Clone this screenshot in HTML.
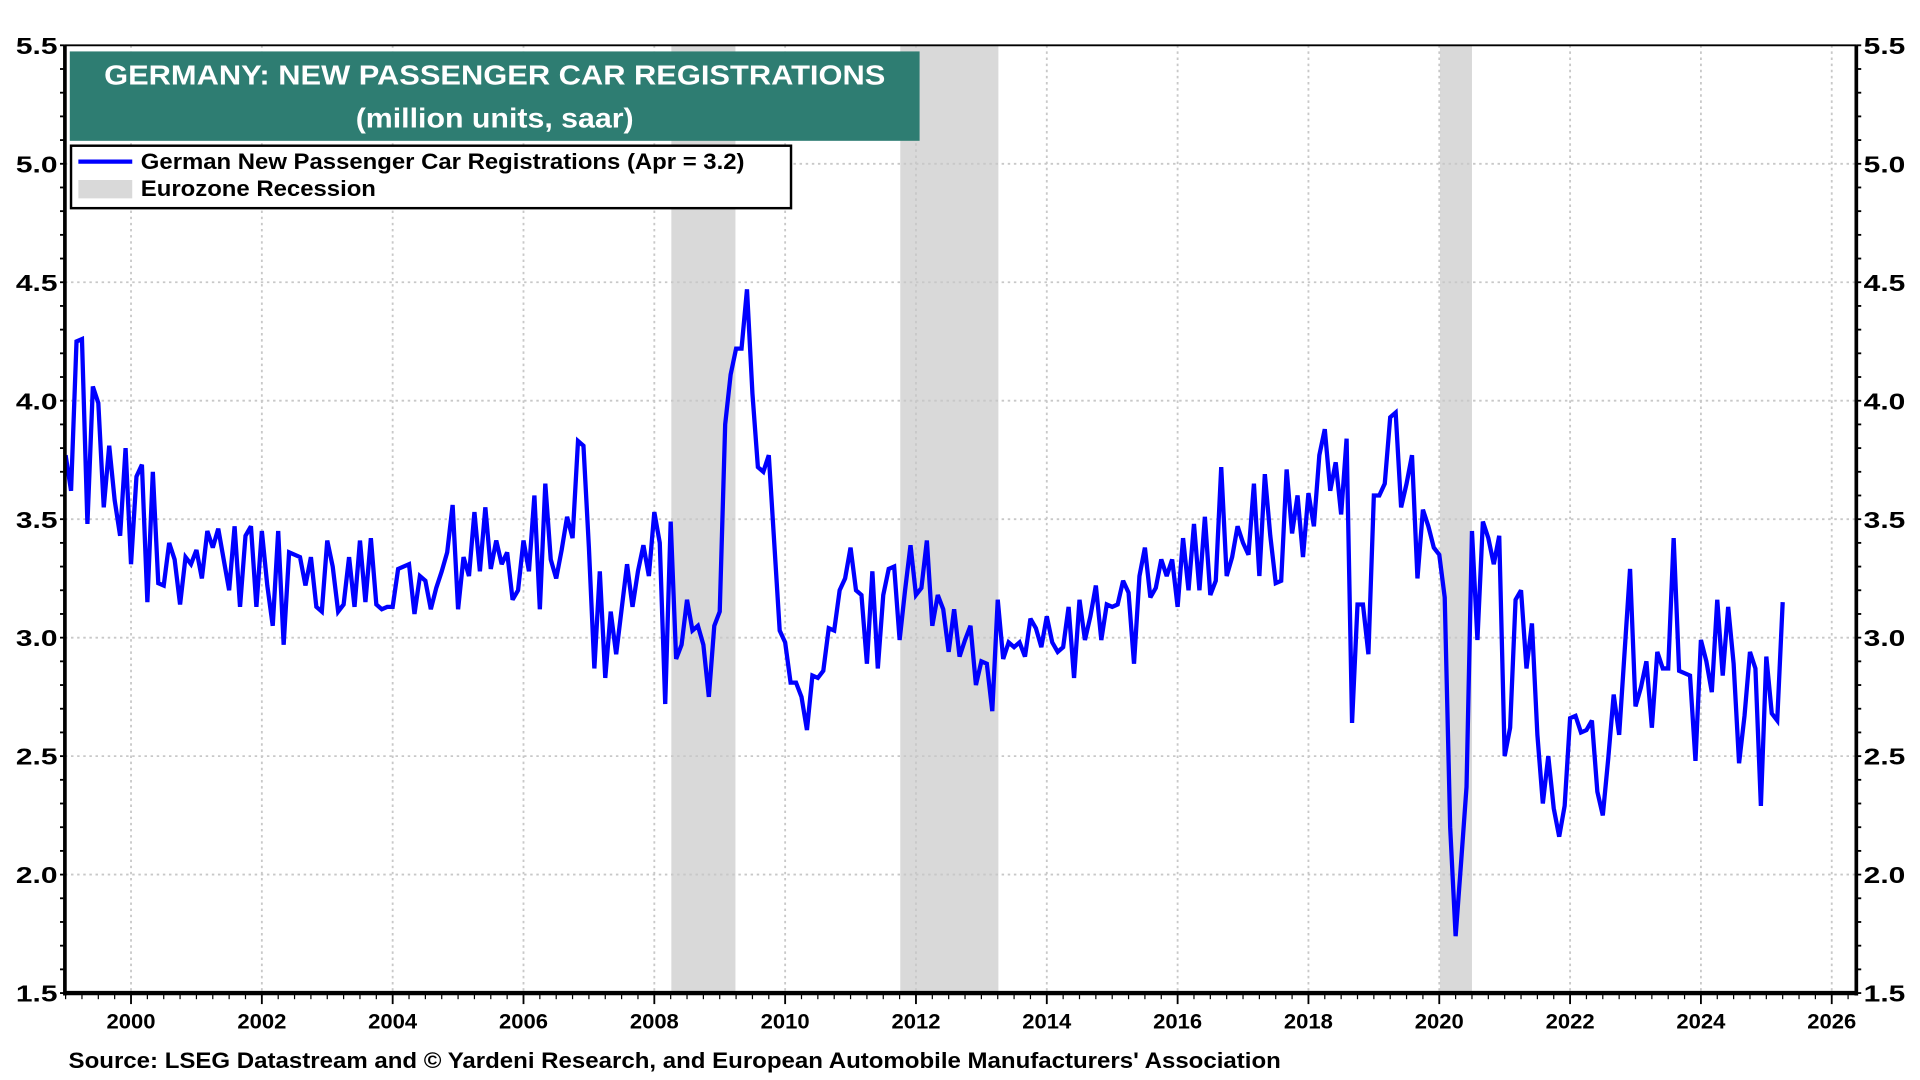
<!DOCTYPE html>
<html><head><meta charset="utf-8"><style>
html,body{margin:0;padding:0;background:#fff;}
svg{display:block;font-family:"Liberation Sans",Arial,sans-serif;font-weight:bold;}
</style></head><body>
<svg id="chart" width="1920" height="1080" viewBox="0 0 1568 882" preserveAspectRatio="none" xmlns="http://www.w3.org/2000/svg">
<g id="bands"></g>
<g id="grid"></g>
<g id="series"></g>
<g id="axes"></g>
<rect x="57" y="42" width="694" height="73" fill="#2e7d72"/>
<text x="404" y="69" fill="#fff" font-size="23" text-anchor="middle" textLength="638" lengthAdjust="spacingAndGlyphs">GERMANY: NEW PASSENGER CAR REGISTRATIONS</text>
<text x="404" y="104" fill="#fff" font-size="23" text-anchor="middle" textLength="227" lengthAdjust="spacingAndGlyphs">(million units, saar)</text>
<g>
<rect x="58" y="119" width="588" height="51" fill="#fff" stroke="#000" stroke-width="2"/>
<line x1="64" y1="132" x2="108" y2="132" stroke="#0000ff" stroke-width="3.5"/>
<text x="115" y="138" font-size="18" textLength="493" lengthAdjust="spacingAndGlyphs">German New Passenger Car Registrations (Apr = 3.2)</text>
<rect x="64" y="147" width="44" height="15" fill="#d9d9d9"/>
<text x="115" y="160" font-size="18" textLength="192" lengthAdjust="spacingAndGlyphs">Eurozone Recession</text>
</g>
<text x="56" y="872" font-size="18" textLength="990" lengthAdjust="spacingAndGlyphs">Source: LSEG Datastream and © Yardeni Research, and European Automobile Manufacturers' Association</text>
</svg>
<script>
const startYear = 1999;
const values = [
3.77,3.62,4.25,4.26,3.48,4.06,3.99,3.55,3.81,3.58,3.43,3.80,
3.31,3.68,3.73,3.15,3.70,3.23,3.22,3.40,3.33,3.14,3.34,3.31,
3.37,3.25,3.45,3.38,3.46,3.33,3.20,3.47,3.13,3.43,3.47,3.13,
3.45,3.22,3.05,3.45,2.97,3.36,3.35,3.34,3.22,3.34,3.13,3.11,
3.41,3.30,3.11,3.14,3.34,3.13,3.41,3.15,3.42,3.14,3.12,3.13,
3.13,3.29,3.30,3.31,3.10,3.26,3.24,3.12,3.21,3.28,3.36,3.56,
3.12,3.34,3.26,3.53,3.28,3.55,3.29,3.41,3.31,3.36,3.16,3.20,
3.41,3.28,3.60,3.12,3.65,3.33,3.25,3.37,3.51,3.42,3.83,3.81,
3.38,2.87,3.28,2.83,3.11,2.93,3.12,3.31,3.13,3.28,3.39,3.26,
3.53,3.40,2.72,3.49,2.91,2.97,3.16,3.03,3.05,2.97,2.75,3.05,
3.11,3.90,4.11,4.22,4.22,4.47,4.03,3.72,3.70,3.77,3.40,3.03,
2.98,2.81,2.81,2.75,2.61,2.84,2.83,2.86,3.04,3.03,3.20,3.25,
3.38,3.20,3.18,2.89,3.28,2.87,3.18,3.29,3.30,2.99,3.20,3.39,
3.18,3.21,3.41,3.05,3.18,3.12,2.94,3.12,2.92,2.99,3.05,2.80,
2.90,2.89,2.69,3.16,2.91,2.98,2.96,2.98,2.92,3.08,3.04,2.96,
3.09,2.98,2.94,2.96,3.13,2.83,3.16,2.99,3.09,3.22,2.99,3.14,
3.13,3.14,3.24,3.19,2.89,3.26,3.38,3.17,3.21,3.33,3.26,3.33,
3.13,3.42,3.20,3.48,3.20,3.51,3.18,3.24,3.72,3.26,3.34,3.47,
3.40,3.35,3.65,3.26,3.69,3.43,3.23,3.24,3.71,3.44,3.60,3.34,
3.61,3.47,3.77,3.88,3.62,3.74,3.52,3.84,2.64,3.14,3.14,2.93,
3.60,3.60,3.65,3.93,3.95,3.55,3.65,3.77,3.25,3.54,3.47,3.38,
3.35,3.17,2.20,1.74,2.05,2.37,3.45,2.99,3.49,3.42,3.31,3.43,
2.50,2.62,3.16,3.20,2.87,3.06,2.59,2.30,2.50,2.28,2.16,2.29,
2.66,2.67,2.60,2.61,2.65,2.35,2.25,2.49,2.76,2.59,2.94,3.29,
2.71,2.79,2.90,2.62,2.94,2.87,2.87,3.42,2.86,2.85,2.84,2.48,
2.99,2.90,2.77,3.16,2.84,3.13,2.89,2.47,2.67,2.94,2.87,2.29,
2.92,2.68,2.65,3.15
];
const recessionStarts = [2008.26, 2011.76, 2020.01];
const recessionEnds = [2009.24, 2013.26, 2020.50];
const yTicks = [1.5,2.0,2.5,3.0,3.5,4.0,4.5,5.0,5.5];
const xTickYears = [2000,2002,2004,2006,2008,2010,2012,2014,2016,2018,2020,2022,2024,2026];

const L=53,R=1516,T=37,B=811;
const X0=2000,PX0=107,PXY=53.42;
function xs(t){return PX0+(t-X0)*PXY;}
function ys(v){return B-(v-1.5)*(B-T)/4;}
const NS="http://www.w3.org/2000/svg";
function mk(tag,attrs,parent){const e=document.createElementNS(NS,tag);for(const k in attrs)e.setAttribute(k,attrs[k]);parent.appendChild(e);return e;}
const bands=document.getElementById('bands'),grid=document.getElementById('grid'),ser=document.getElementById('series'),axes=document.getElementById('axes');

recessionStarts.forEach((s,i)=>{
  const r=mk('rect',{x:xs(s),y:T,width:xs(recessionEnds[i])-xs(s),height:B-T,fill:'#d9d9d9'},bands);
  
  
});
yTicks.forEach(v=>{
  if(v>1.5&&v<5.5){
    const g=mk('line',{x1:L,x2:R,y1:ys(v),y2:ys(v),stroke:'#c8c8c8','stroke-width':1.5,'stroke-dasharray':'2,3'},grid);
    
    
  }
  const t1=mk('text',{x:L-6,y:ys(v)+7,'font-size':19,'text-anchor':'end',textLength:34,lengthAdjust:'spacingAndGlyphs'},axes);
  t1.textContent=v.toFixed(1);
  
  
  const t2=mk('text',{x:R+6,y:ys(v)+7,'font-size':19,'text-anchor':'start',textLength:34,lengthAdjust:'spacingAndGlyphs'},axes);
  t2.textContent=v.toFixed(1);
  
  
});
for(let v=1.5;v<=5.5001;v+=0.1){
  mk('line',{x1:L-4,x2:L,y1:ys(v),y2:ys(v),stroke:'#000','stroke-width':1.5},axes);
  mk('line',{x1:R,x2:R+4,y1:ys(v),y2:ys(v),stroke:'#000','stroke-width':1.5},axes);
}
xTickYears.forEach(yr=>{
  const g=mk('line',{x1:xs(yr),x2:xs(yr),y1:T,y2:B,stroke:'#c8c8c8','stroke-width':1.5,'stroke-dasharray':'2,3'},grid);
  
  
  const t=mk('text',{x:xs(yr),y:B+29,'font-size':17,'text-anchor':'middle',textLength:40,lengthAdjust:'spacingAndGlyphs'},axes);
  t.textContent=String(yr);
  
  
});
for(let m=0;;m++){const x=xs(1999+m/12*3);if(x>R)break;if(x<L)continue;
  mk('line',{x1:x,x2:x,y1:B,y2:B+5,stroke:'#000','stroke-width':1},axes);}
xTickYears.forEach(yr=>mk('line',{x1:xs(yr),x2:xs(yr),y1:B,y2:B+9,stroke:'#000','stroke-width':1.5},axes));
mk('line',{x1:L,x2:L,y1:T,y2:B+2,stroke:'#000','stroke-width':3},axes);
mk('line',{x1:R,x2:R,y1:T,y2:B+2,stroke:'#000','stroke-width':3},axes);
mk('line',{x1:L,x2:R,y1:B,y2:B,stroke:'#000','stroke-width':3.5},axes);
mk('line',{x1:L,x2:R,y1:T,y2:T,stroke:'#000','stroke-width':1.5},axes);

const pts=values.map((v,i)=>xs(startYear+i/12).toFixed(2)+','+ys(v).toFixed(2)).join(' ');
const pl=mk('polyline',{points:pts,fill:'none',stroke:'#0000ff','stroke-width':3.5,'stroke-linejoin':'miter','stroke-miterlimit':3},ser);


</script>
</body></html>
